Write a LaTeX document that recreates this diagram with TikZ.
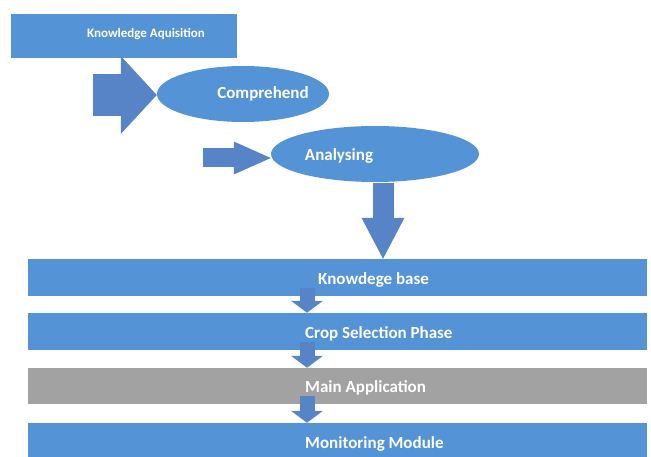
\documentclass[tikz,border=0pt]{standalone}
\usepackage{fontspec}
\setmainfont{Carlito}
\usetikzlibrary{shapes.geometric}
\usetikzlibrary{arrows.meta}
\usetikzlibrary{positioning, calc}

\definecolor{boxblue}{RGB}{84,147,214}
\definecolor{arrowblue}{RGB}{86,132,198}
\definecolor{boxgray}{RGB}{162,162,162}

\tikzset{
  box/.style={rectangle,fill=boxblue,draw=none,inner sep=0pt},
  oval/.style={ellipse,fill=boxblue,draw=none,inner sep=0pt},
  bar/.style={box,minimum width=619pt,minimum height=37pt},
  lbl/.style={text=white,inner sep=0pt,font=\bfseries\fontsize{17}{20}\selectfont},
  fatarrow/.style={draw=arrowblue,line width=42pt,-{Triangle[length=36pt,width=78pt,line width=0pt]}},
  midarrow/.style={draw=arrowblue,line width=19pt,-{Triangle[length=37pt,width=33pt,line width=0pt]}},
  downarrow/.style={draw=arrowblue,line width=21pt,-{Triangle[length=41pt,width=43pt,line width=0pt]}},
  smallarrow/.style={draw=arrowblue,line width=15pt,-{Triangle[length=12pt,width=32pt,line width=0pt]}}
}

\begin{document}
\begin{tikzpicture}[x=1pt,y=-1pt]
\useasboundingbox (0,0) rectangle (651,457);
\clip (0,0) rectangle (651,457);

% upper part
\node[box,minimum width=226pt,minimum height=44pt] (kaq) at (124,36) {};
\node[lbl,font=\bfseries\fontsize{13}{15}\selectfont] (kaqtext) at (146,34) {Knowledge Aquisition};
\node[oval,minimum width=172pt,minimum height=56pt] (comp) at (243,94) {};
\node[lbl] (comptext) at (263,94) {Comprehend};
\node[oval,minimum width=208pt,minimum height=56pt] (ana) at (375,154) {};
\node[lbl] (anatext) at (339,156) {Analysing};

\coordinate (a1) at (93,95);
\draw[fatarrow] (a1) -- (a1 -| comp.west);
\coordinate (a2) at (203,158);
\draw[midarrow] (a2) -- (a2 -| ana.west);

% phases
\node[bar] (kb) at (337.5,277.5) {};
\node[bar] (crop) at (337.5,331.5) {};
\node[bar,fill=boxgray,minimum height=36pt] (app) at (337.5,386) {};
\node[bar] (mon) at (337.5,441.5) {};
\node[lbl,anchor=west] (kbtext) at (318,280) {Knowdege base};
\node[lbl,anchor=west] (croptext) at (305,334) {Crop Selection Phase};
\node[lbl,anchor=west] (apptext) at (305,388) {Main Application};
\node[lbl,anchor=west] (montext) at (305,444) {Monitoring Module};

\coordinate (a3) at (383,183);
\draw[downarrow] (a3) -- (a3 |- kb.north);
\coordinate (stem) at (307,0);
\foreach \a/\b in {kb/crop,crop/app,app/mon}
  \draw[smallarrow] ($(\a.south -| stem)+(0,-8)$) -- (\b.north -| stem);

\end{tikzpicture}
\end{document}
